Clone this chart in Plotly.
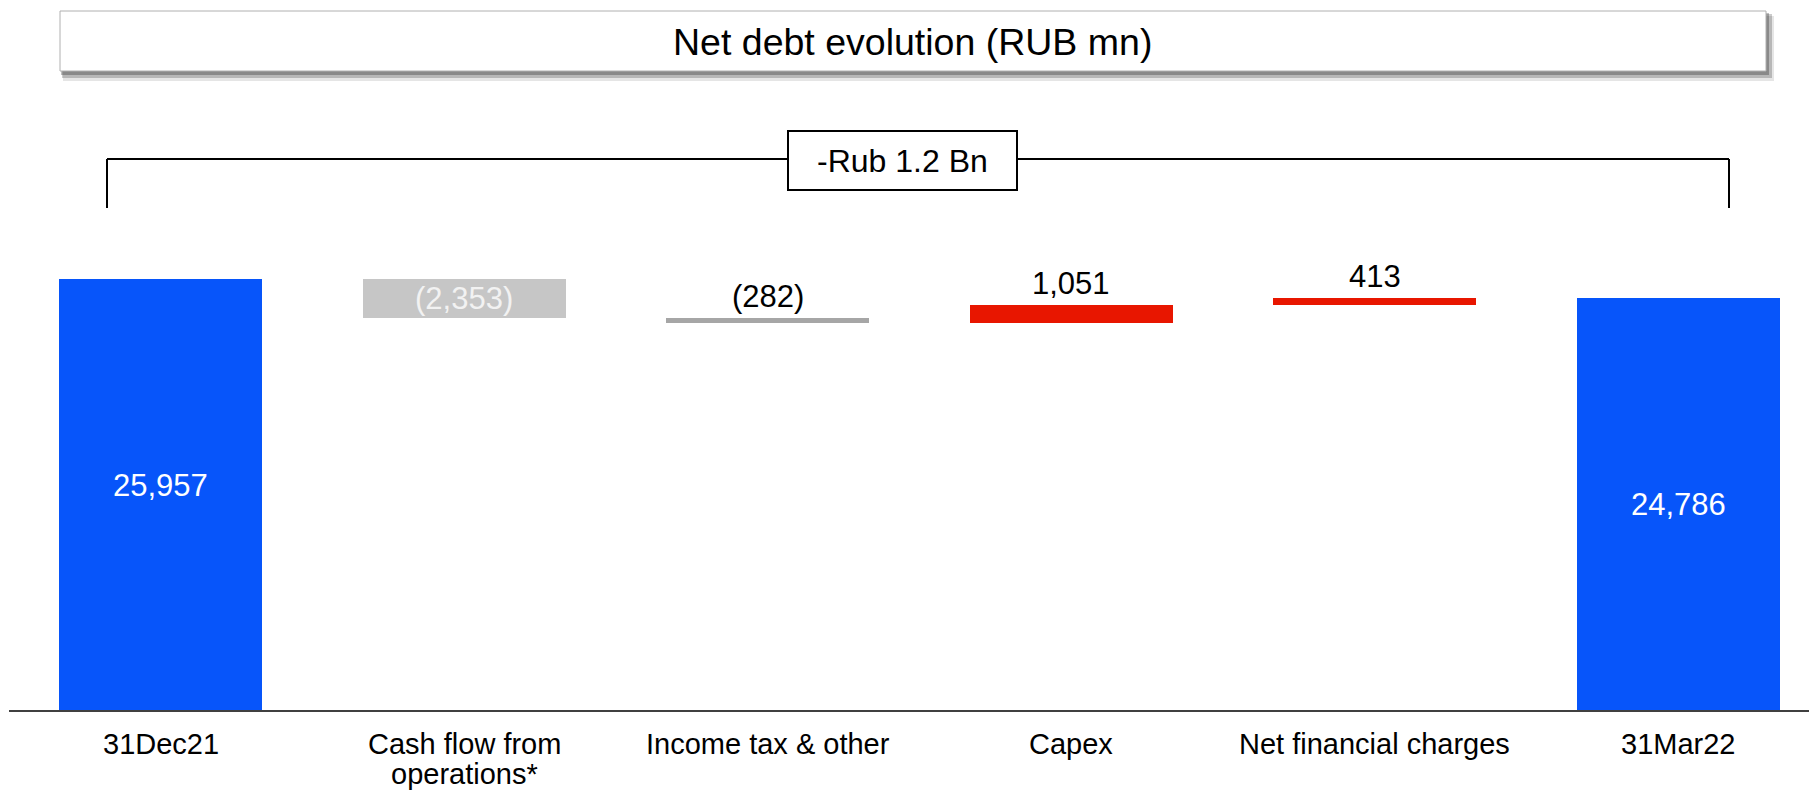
import plotly.graph_objects as go

# Net debt bridge, RUB mn
categories = [
    "31Dec21",
    "Cash flow from<br>operations*",
    "Income tax & other",
    "Capex",
    "Net financial charges",
    "31Mar22",
]
opening_balance = 25957
movements = [-2353, -282, 1051, 413]
closing_balance = 24786

bar_colors = ["#0755FA", "#C6C6C6", "#A6A6A6", "#E81600", "#E81600", "#0755FA"]
label_colors = ["#FFFFFF", "#F2F2F2", "#000000", "#000000", "#000000", "#FFFFFF"]
label_inside = [True, True, False, False, False, True]

title_text = "Net debt evolution (RUB mn)"
change_note = "-Rub 1.2 Bn"

FONT = "Arial, 'Liberation Sans', sans-serif"
W, H = 1809, 793
M_L, M_R, M_T, M_B = 9, 0, 0, 83
PLOT_W = W - M_L - M_R
PLOT_H = H - M_T - M_B
Y_MAX = 42761


def fmt(v):
    s = f"{abs(v):,}"
    return f"({s})" if v < 0 else s


def px_x(px):
    return (px - M_L) / PLOT_W


def px_y(py):
    return (PLOT_H + M_T - py) / PLOT_H


# floating bars: start/end totals plus the movements stacked between them
bases = [0]
heights = [opening_balance]
signed = [opening_balance]
level = opening_balance
for m in movements:
    if m < 0:
        bases.append(level + m)
        heights.append(-m)
    else:
        bases.append(level)
        heights.append(m)
    signed.append(m)
    level += m
bases.append(0)
heights.append(closing_balance)
signed.append(closing_balance)

fig = go.Figure(
    go.Bar(
        x=categories,
        y=heights,
        base=bases,
        width=0.669,
        marker=dict(color=bar_colors, line=dict(width=0)),
        hoverinfo="skip",
        showlegend=False,
    )
)

annotations = []
for i, (cat, b, h, v, col, inside) in enumerate(
        zip(categories, bases, heights, signed, label_colors, label_inside)):
    if inside:
        annotations.append(dict(x=cat, y=b + h / 2, text=fmt(v), showarrow=False,
                                xanchor="center", yanchor="middle",
                                yshift=9 if i == 0 else 0,
                                font=dict(family=FONT, size=31, color=col)))
    else:
        annotations.append(dict(x=cat, y=b + h, text=fmt(v), showarrow=False,
                                xanchor="center", yanchor="middle", yshift=22,
                                font=dict(family=FONT, size=31, color=col)))

# category labels under the axis, one annotation per text line for tight leading
for cat in categories:
    for k, line in enumerate(cat.split("<br>")):
        annotations.append(dict(x=cat, xref="x", yref="paper", y=px_y(744 + 30 * k),
                                text=line, showarrow=False, xanchor="center", yanchor="middle",
                                font=dict(family=FONT, size=29, color="#000000")))

# heading box
annotations.append(dict(xref="paper", yref="paper", x=px_x(912), y=px_y(42),
                        text=title_text, showarrow=False, xanchor="center", yanchor="middle",
                        font=dict(family=FONT, size=37.5, color="#000000")))
# bracket note
annotations.append(dict(xref="paper", yref="paper", x=px_x(902.5), y=px_y(161),
                        text=change_note, showarrow=False, xanchor="center", yanchor="middle",
                        font=dict(family=FONT, size=32, color="#000000")))

shapes = [
    # soft drop shadow of heading box
    dict(type="rect", xref="paper", yref="paper", x0=px_x(63), x1=px_x(1774), y0=px_y(81), y1=px_y(16),
         fillcolor="rgba(0,0,0,0.10)", line=dict(width=0), layer="above"),
    dict(type="rect", xref="paper", yref="paper", x0=px_x(62), x1=px_x(1772), y0=px_y(78), y1=px_y(14),
         fillcolor="rgba(0,0,0,0.20)", line=dict(width=0), layer="above"),
    dict(type="rect", xref="paper", yref="paper", x0=px_x(61), x1=px_x(1769), y0=px_y(75), y1=px_y(13),
         fillcolor="rgba(0,0,0,0.25)", line=dict(width=0), layer="above"),
    dict(type="rect", xref="paper", yref="paper", x0=px_x(60), x1=px_x(1766), y0=px_y(71), y1=px_y(11),
         fillcolor="#FFFFFF", line=dict(color="#B0B0B0", width=1), layer="above"),
    # bracket spanning the period
    dict(type="line", xref="paper", yref="paper", x0=px_x(107), x1=px_x(1729), y0=px_y(159), y1=px_y(159),
         line=dict(color="#000000", width=2), layer="above"),
    dict(type="line", xref="paper", yref="paper", x0=px_x(107), x1=px_x(107), y0=px_y(159), y1=px_y(208),
         line=dict(color="#000000", width=2), layer="above"),
    dict(type="line", xref="paper", yref="paper", x0=px_x(1729), x1=px_x(1729), y0=px_y(159), y1=px_y(208),
         line=dict(color="#000000", width=2), layer="above"),
    dict(type="rect", xref="paper", yref="paper", x0=px_x(788), x1=px_x(1017), y0=px_y(190), y1=px_y(131),
         fillcolor="#FFFFFF", line=dict(color="#000000", width=2), layer="above"),
]

fig.update_layout(
    width=W,
    height=H,
    margin=dict(l=M_L, r=M_R, t=M_T, b=M_B, pad=0, autoexpand=False),
    paper_bgcolor="#FFFFFF",
    plot_bgcolor="#FFFFFF",
    bargap=0,
    annotations=annotations,
    shapes=shapes,
    xaxis=dict(
        type="category",
        range=[-0.5, 5.43],
        automargin=False,
        showline=True,
        linecolor="#404040",
        linewidth=2,
        ticks="",
        showticklabels=False,
        showgrid=False,
        zeroline=False,
        fixedrange=True,
    ),
    yaxis=dict(range=[0, Y_MAX], visible=False, fixedrange=True, automargin=False),
)

fig.write_html("out.html")
